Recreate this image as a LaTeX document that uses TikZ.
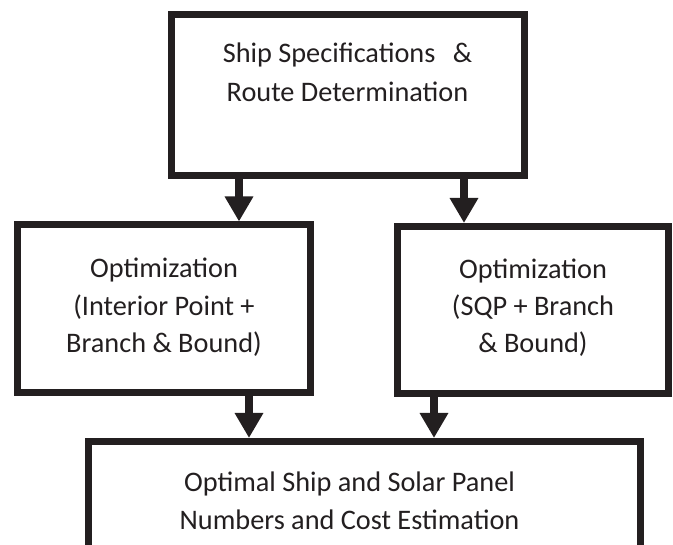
\documentclass[tikz,border=0pt]{standalone}
\usepackage{fontspec}
\setmainfont{Carlito}
\usetikzlibrary{arrows.meta}
\definecolor{ink}{HTML}{231F20}
\begin{document}
\begin{tikzpicture}[x=1pt,y=-1pt,
  box/.style={draw=ink, line width=7pt, inner sep=0pt, fill=white},
  lbl/.style={text=ink, font=\fontsize{28.3}{38}\selectfont, anchor=base, inner sep=0pt},
  arr/.style={draw=ink, line width=8pt, -{Triangle[width=27pt,length=25pt]}}]
\useasboundingbox (0,0) rectangle (673,545);
\clip (0,0) rectangle (673,545);

% process boxes
\node[box, minimum width=352.5pt, minimum height=161.5pt] (spec) at (347.75,95.25) {};
\node[box, minimum width=292.5pt, minimum height=167.5pt] (ipopt) at (163.75,308.75) {};
\node[box, minimum width=270.5pt, minimum height=167pt] (sqpopt) at (532.75,310) {};
\node[box, minimum width=551.5pt, minimum height=317pt] (result) at (364.25,600) {};

% box texts
\node[lbl] (spec1) at (347.5,63) {Ship Specifications\hspace{11pt} \&};
\node[lbl] (spec2) at (347.5,102) {Route Determination};
\node[lbl] (ip1) at (164,278) {Optimization};
\node[lbl] (ip2) at (164,315.5) {(Interior Point +};
\node[lbl] (ip3) at (164,353) {Branch \& Bound)};
\node[lbl] (sqp1) at (533,279) {Optimization};
\node[lbl] (sqp2) at (533,316) {(SQP + Branch};
\node[lbl] (sqp3) at (533,353) {\& Bound)};
\node[lbl] (res1) at (349.5,492) {Optimal Ship and Solar Panel};
\node[lbl] (res2) at (349.5,530) {Numbers and Cost Estimation};

% arrow columns
\coordinate (c1) at (239,0);
\coordinate (c2) at (464,0);
\coordinate (c3) at (249,0);
\coordinate (c4) at (434,0);

\draw[arr] (spec.south -| c1) -- (ipopt.north -| c1);
\draw[arr] (spec.south -| c2) -- (sqpopt.north -| c2);
\draw[arr] (ipopt.south -| c3) -- (result.north -| c3);
\draw[arr] (sqpopt.south -| c4) -- (result.north -| c4);
\end{tikzpicture}
\end{document}
